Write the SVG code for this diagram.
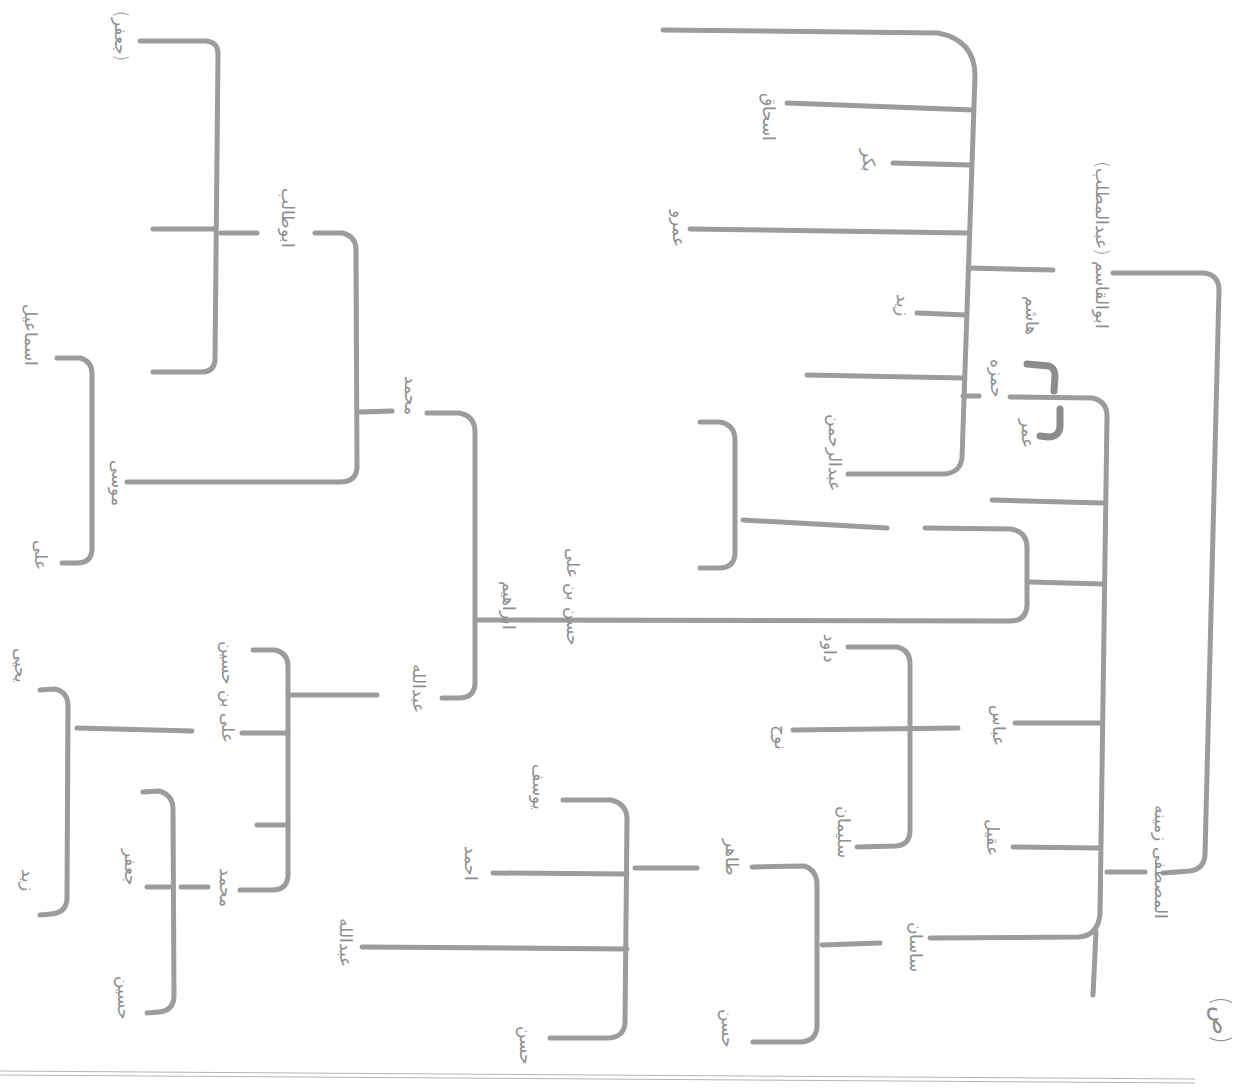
<svg xmlns="http://www.w3.org/2000/svg" width="1234" height="1090" viewBox="0 0 1234 1090">
<defs>
<style>
.ln{fill:none;stroke:#9c9c9c;stroke-width:5;stroke-linecap:round;stroke-linejoin:round}
.sq{fill:none;stroke:#8c8c8c;stroke-width:7;stroke-linecap:round;stroke-linejoin:round}
.bd{fill:none;stroke:#b4b4b4;stroke-width:1}
.lb{font-family:"DejaVu Sans","Noto Sans",sans-serif;font-size:17px;fill:#8e8e8e;font-weight:300;text-anchor:middle;dominant-baseline:middle}
.big{font-size:24px}
</style>
</defs>
<rect width="1234" height="1090" fill="#ffffff"/>
<g id="connectors">
<path class="ln" d="M140,41 L206,41 Q218,42 218,54 L215,360 Q214,372 202,372 L153,372"/>
<path class="ln" d="M153,229 L214,229"/>
<path class="ln" d="M221,233 L257,233"/>
<path class="ln" d="M315,233 L342,233 Q356,236 356,250 L357,468 Q356,482 340,482 L127,482"/>
<path class="ln" d="M360,412 L392,411"/>
<path class="ln" d="M57,358 L80,358 Q92,361 92,374 L92,550 Q91,563 77,563 L62,563"/>
<path class="ln" d="M427,413 L459,413 Q475,416 475,432 L475,684 Q474,698 459,698 L442,698"/>
<path class="ln" d="M925,528 L1011,529 Q1027,532 1027,547 L1027,606 Q1026,621 1010,621 L477,620"/>
<path class="ln" d="M1030,582 L1103,584"/>
<path class="ln" d="M700,422 L720,422 Q735,425 735,440 L735,554 Q734,568 719,568 L700,568"/>
<path class="ln" d="M743,520 L887,528"/>
<path class="ln" d="M663,30 L938,33 Q975,40 975,76 L962,458 Q960,473 944,474 L848,474"/>
<path class="ln" d="M787,103 L973,110"/>
<path class="ln" d="M893,163 L970,165"/>
<path class="ln" d="M690,229 L968,233"/>
<path class="ln" d="M968,268 L1053,270"/>
<path class="ln" d="M917,313 L966,315"/>
<path class="ln" d="M807,375 L963,378"/>
<path class="ln" d="M963,396 L979,396"/>
<path class="sq" d="M1027,364 L1049,366 Q1055,368 1055,376 L1054,391"/>
<path class="sq" d="M1060,409 L1060,427 Q1059,437 1048,437 L1040,436"/>
<path class="ln" d="M1010,397 L1092,398 Q1107,401 1107,416 L1100,914 Q1098,936 1078,937 L930,938"/>
<path class="ln" d="M1096,932 L1093,995"/>
<path class="ln" d="M992,500 L1103,503"/>
<path class="ln" d="M1015,723 L1100,723"/>
<path class="ln" d="M1013,847 L1098,848"/>
<path class="ln" d="M1107,872 L1145,872"/>
<path class="ln" d="M1163,873 L1190,871 Q1204,869 1205,855 L1219,290 Q1219,275 1204,273 L1113,273"/>
<path class="ln" d="M848,647 L897,647 Q910,650 910,664 L910,830 Q910,845 896,846 L857,847"/>
<path class="ln" d="M793,730 L958,728"/>
<path class="ln" d="M253,650 L275,650 Q288,653 288,666 L288,876 Q287,890 272,890 L240,890"/>
<path class="ln" d="M290,695 L377,695"/>
<path class="ln" d="M242,733 L287,733"/>
<path class="ln" d="M257,825 L287,825"/>
<path class="ln" d="M40,690 L55,689 Q68,692 68,706 L67,899 Q66,913 51,914 L40,915"/>
<path class="ln" d="M77,728 L192,731"/>
<path class="ln" d="M143,792 L159,791 Q173,795 173,809 L174,997 Q173,1011 159,1012 L147,1013"/>
<path class="ln" d="M147,887 L170,887"/>
<path class="ln" d="M181,887 L208,887"/>
<path class="ln" d="M563,800 L611,800 Q627,804 627,819 L625,1024 Q623,1038 607,1038 L550,1038"/>
<path class="ln" d="M493,873 L627,874"/>
<path class="ln" d="M362,947 L627,949"/>
<path class="ln" d="M635,868 L697,868"/>
<path class="ln" d="M752,867 L804,866 Q817,870 817,885 L817,1027 Q816,1041 801,1042 L753,1042"/>
<path class="ln" d="M822,945 L880,943"/>
</g>
<g id="frame">
<path class="bd" d="M0,1071 L1195,1079"/>
<path class="bd" d="M0,1075 L1195,1083"/>
</g>
<g id="n1"><text class="lb" transform="translate(120,36) rotate(90)">(جعفر)</text></g>
<g id="n2"><text class="lb" transform="translate(287,218) rotate(90)">ابوطالب</text></g>
<g id="n3"><text class="lb" transform="translate(30,335) rotate(90)">اسماعیل</text></g>
<g id="n4"><text class="lb" transform="translate(117,483) rotate(90)">موسی</text></g>
<g id="n5"><text class="lb" transform="translate(40,555) rotate(90)">علی</text></g>
<g id="n6"><text class="lb" transform="translate(410,395) rotate(90)">محمد</text></g>
<g id="n7"><text class="lb" transform="translate(418,688) rotate(90)">عبدالله</text></g>
<g id="n8"><text class="lb" transform="translate(508,605) rotate(90)">ابراهیم</text></g>
<g id="n9"><text class="lb" transform="translate(572,597) rotate(90)">حسن بن علی</text></g>
<g id="n10"><text class="lb" transform="translate(20,665) rotate(90)">یحیی</text></g>
<g id="n11"><text class="lb" transform="translate(27,880) rotate(90)">زید</text></g>
<g id="n12"><text class="lb" transform="translate(130,867) rotate(90)">جعفر</text></g>
<g id="n13"><text class="lb" transform="translate(123,998) rotate(90)">حسین</text></g>
<g id="n14"><text class="lb" transform="translate(227,692) rotate(90)">علی بن حسین</text></g>
<g id="n15"><text class="lb" transform="translate(225,887) rotate(90)">محمد</text></g>
<g id="n16"><text class="lb" transform="translate(345,942) rotate(90)">عبدالله</text></g>
<g id="n17"><text class="lb" transform="translate(470,863) rotate(90)">احمد</text></g>
<g id="n18"><text class="lb" transform="translate(538,787) rotate(90)">یوسف</text></g>
<g id="n19"><text class="lb" transform="translate(525,1045) rotate(90)">حسن</text></g>
<g id="n20"><text class="lb" transform="translate(731,857) rotate(90)">طاهر</text></g>
<g id="n21"><text class="lb" transform="translate(727,1028) rotate(90)">حسن</text></g>
<g id="n22"><text class="lb" transform="translate(780,737) rotate(90)">نوح</text></g>
<g id="n23"><text class="lb" transform="translate(829,648) rotate(90)">داود</text></g>
<g id="n24"><text class="lb" transform="translate(843,832) rotate(90)">سلیمان</text></g>
<g id="n25"><text class="lb" transform="translate(768,117) rotate(90)">اسحاق</text></g>
<g id="n26"><text class="lb" transform="translate(868,160) rotate(90)">بکر</text></g>
<g id="n27"><text class="lb" transform="translate(678,228) rotate(90)">عمرو</text></g>
<g id="n28"><text class="lb" transform="translate(902,305) rotate(90)">زید</text></g>
<g id="n29"><text class="lb" transform="translate(834,452) rotate(90)">عبدالرحمن</text></g>
<g id="n30"><text class="lb" transform="translate(996,378) rotate(90)">حمزه</text></g>
<g id="n31"><text class="lb" transform="translate(1031,315) rotate(90)">هاشم</text></g>
<g id="n32"><text class="lb" transform="translate(1027,433) rotate(90)">عمر</text></g>
<g id="n33"><text class="lb" transform="translate(1101,245) rotate(90)">ابوالقاسم (عبدالمطلب)</text></g>
<g id="n34"><text class="lb" transform="translate(998,725) rotate(90)">عباس</text></g>
<g id="n35"><text class="lb" transform="translate(992,837) rotate(90)">عقیل</text></g>
<g id="n36"><text class="lb" transform="translate(915,947) rotate(90)">ساسان</text></g>
<g id="n37"><text class="lb" transform="translate(1160,862) rotate(90)">المصطفی زمینه</text></g>
<g id="n38"><text class="lb big" transform="translate(1220,1020) rotate(90)">(ص)</text></g>
</svg>
